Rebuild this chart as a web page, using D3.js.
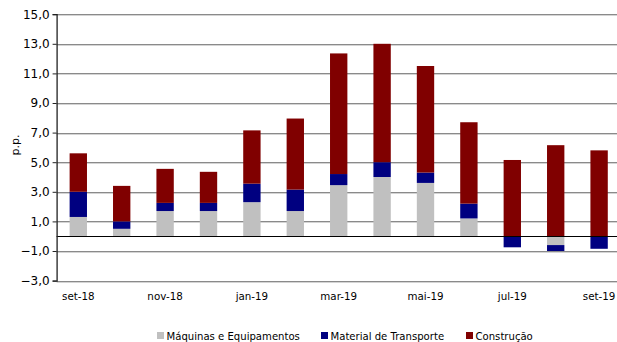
<!DOCTYPE html>
<html>
<head>
<meta charset="utf-8">
<script src="https://cdn.jsdelivr.net/npm/d3@7"></script>
<style>
  html, body { margin: 0; padding: 0; background: #fff; }
  svg { display: block; }
  text { font-family: "DejaVu Sans", Verdana, sans-serif; fill: #000; }
</style>
</head>
<body>
<svg id="chart" width="617" height="342"></svg>
<script>
// Monthly contributions (p.p.) by component
const months = ["set-18","out-18","nov-18","dez-18","jan-19","fev-19","mar-19",
                "abr-19","mai-19","jun-19","jul-19","ago-19","set-19"];
const maquinas   = [1.3, 0.5, 1.7, 1.7, 2.3, 1.7, 3.45, 4.0, 3.6, 1.2, 0.0, -0.6, 0.0];
const transporte = [1.7, 0.5, 0.55, 0.55, 1.25, 1.45, 0.75, 1.0, 0.7, 1.0, -0.75, -0.4, -0.85];
const construcao = [2.6, 2.4, 2.3, 2.1, 3.6, 4.8, 8.15, 8.0, 7.2, 5.5, 5.15, 6.15, 5.8];
const seriesNames = ["Máquinas e Equipamentos", "Material de Transporte", "Construção"];
const seriesColors = ["#c0c0c0", "#000080", "#800000"];
const yTicks = [-3, -1, 1, 3, 5, 7, 9, 11, 13, 15];
const xLabelMonths = ["set-18","nov-18","jan-19","mar-19","mai-19","jul-19","set-19"];
const yAxisTitle = "p.p.";

const svg = d3.select("#chart");
const plot = { left: 56.6, right: 620.8, top: 14.2, bottom: 280.6 };

const keys = ["m", "t", "c"];
const rows = months.map((mo, i) => ({
  month: mo, m: maquinas[i], t: transporte[i], c: construcao[i]
}));
const stacked = d3.stack().keys(keys).offset(d3.stackOffsetDiverging)(rows);

const x = d3.scaleBand().domain(months).range([plot.left, plot.right])
  .paddingInner(0.6).paddingOuter(0.3);
const y = d3.scaleLinear().domain([-3, 15]).range([plot.bottom, plot.top]);

// horizontal gridlines
const grid = svg.append("g");
yTicks.forEach(v => {
  const yy = Math.round(y(v)) + 0.5;
  grid.append("line").attr("x1", plot.left).attr("x2", 617)
    .attr("y1", yy).attr("y2", yy).attr("stroke", "#8a8a8a").attr("stroke-width", 1);
  grid.append("line").attr("x1", plot.left).attr("x2", 617)
    .attr("y1", yy + 1).attr("y2", yy + 1).attr("stroke", "#d4d4d4").attr("stroke-width", 1);
});

// stacked bars
svg.append("g").selectAll("g").data(stacked).join("g")
  .attr("fill", (d, i) => seriesColors[i])
  .selectAll("rect").data(d => d).join("rect")
  .attr("x", d => x(d.data.month))
  .attr("width", x.bandwidth())
  .attr("y", d => y(Math.max(d[0], d[1])))
  .attr("height", d => Math.abs(y(d[0]) - y(d[1])));

// zero line
const y0 = Math.round(y(0)) + 0.5;
svg.append("line").attr("x1", plot.left).attr("x2", 617)
  .attr("y1", y0).attr("y2", y0).attr("stroke", "#000").attr("stroke-width", 1.2);

// y axis
const yAxis = d3.axisLeft(y).tickValues(yTicks).tickSize(4).tickPadding(3)
  .tickFormat(d => d3.format(".1f")(d).replace(".", ","));
const gy = svg.append("g").attr("transform", `translate(${plot.left},0)`).call(yAxis);
gy.select(".domain").attr("stroke", "#222").attr("stroke-width", 1.3);
gy.selectAll(".tick line").attr("stroke", "#222");
gy.selectAll(".tick text").style("font-size", "12px").style("font-family", "DejaVu Sans");

// x axis labels (every other month)
const xAxis = d3.axisBottom(x).tickValues(xLabelMonths).tickSize(0).tickPadding(12);
const gx = svg.append("g").attr("transform", `translate(0,${plot.bottom})`).call(xAxis);
gx.select(".domain").remove();
gx.selectAll(".tick text").style("font-size", "10.3px").style("font-family", "DejaVu Sans");

// y axis title
svg.append("text")
  .attr("transform", `translate(19,145) rotate(-90)`)
  .attr("text-anchor", "middle")
  .style("font-size", "11px")
  .text(yAxisTitle);

// legend
const legendX = [157, 321, 466];
const lg = svg.append("g").attr("transform", "translate(0,336)");
seriesNames.forEach((name, i) => {
  lg.append("rect").attr("x", legendX[i]).attr("y", -4).attr("width", 7).attr("height", 7)
    .attr("fill", seriesColors[i]);
  lg.append("text").attr("x", legendX[i] + 9.5).attr("y", 0).attr("dy", "0.35em")
    .style("font-size", "10.1px").text(name);
});
</script>
</body>
</html>
